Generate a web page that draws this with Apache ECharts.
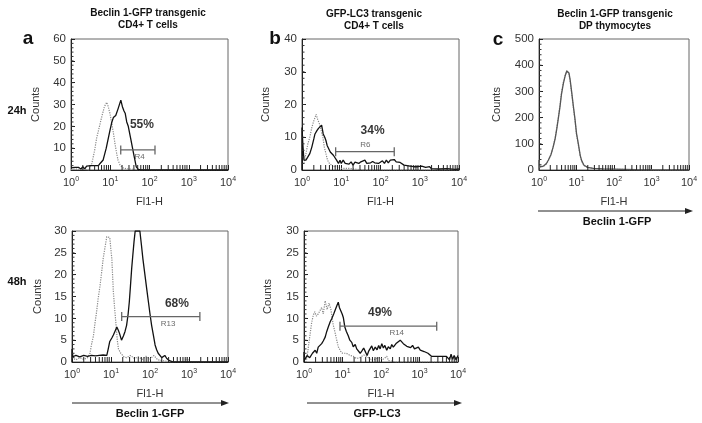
<!DOCTYPE html>
<html><head><meta charset="utf-8">
<script src="https://cdn.jsdelivr.net/npm/echarts@6/dist/echarts.min.js"></script>
<style>html,body{margin:0;padding:0;background:#fff}#c{width:702px;height:423px}</style>
</head><body><div id="c"></div>
<script>
// ---- data (FL1-H value, counts) ----
const a24Solid = [[1,1],[1.12,0.3],[1.26,1.2],[1.41,0.3],[1.58,1.2],[1.78,0.4],[2.0,1.5],[2.24,0.5],[2.5,1.8],[2.8,1.6],[3.2,2],[3.6,2],[4,2],[5,2],[5.5,3],[6.6,4.6],[7.9,10],[9.8,18],[11,22],[12,24],[13.8,25],[15.8,28],[18.6,32],[20.4,29],[22.4,27],[24,26],[26.3,22],[28.8,20],[33,14.6],[39,7.8],[46,1.4],[52,0.3],[63,0],[10000,0]];
const a24Ctrl = [[1,0.3],[2,0.5],[2.8,0],[3.4,3],[4,9],[4.5,14.6],[5,18],[6,24],[7.1,29],[8.1,31],[8.9,29],[9.8,26],[11,21],[12,17],[13.2,12],[14.5,7.8],[15.8,4.5],[17.8,2.3],[21,1],[26,0.5],[40,0.3],[63,0],[10000,0]];
const b24Solid = [[1,0],[1,13],[1.05,8],[1.12,3],[1.26,3],[1.41,2.5],[1.58,5],[1.78,7],[2.0,9.5],[2.14,11],[2.4,12],[2.63,12.7],[2.88,12.5],[3.16,13.7],[3.47,11],[3.8,10],[4.07,9],[4.37,7.5],[4.68,7],[5.25,5.5],[5.75,5],[6.3,4.5],[6.9,4],[7.6,3],[8.5,2],[9.3,3],[10,2],[11.2,3],[12.6,2],[14.1,2.6],[15.8,1.8],[17.8,2.5],[20,1.5],[22.4,2.4],[25,2.8],[28,2],[31.6,2.5],[35.5,2.2],[40,3],[44.7,2],[50,2.6],[56,2.2],[63,2.6],[71,2.2],[79,2.5],[89,2],[100,2.3],[112,2.8],[126,2],[141,3],[158,2.2],[178,3],[200,2.4],[224,3.2],[251,2.5],[282,3],[316,2.3],[355,2.6],[398,1.5],[447,1.2],[562,1.2],[708,1],[891,1],[1122,1.2],[1413,0.8],[1778,1],[2000,0.4],[3162,0.3],[5012,0.4],[7943,0.2],[10000,0.3]];
const b24Ctrl = [[1.12,2],[1.26,5],[1.41,8],[1.58,10],[1.78,13],[2.0,15],[2.3,17],[2.5,15.5],[2.8,14],[3.16,11.5],[3.4,10],[3.7,7],[4.07,5],[4.47,3],[5,2],[6.3,1],[7.9,1.2],[10,0.5],[15.8,0.5],[25,0.2],[40,0],[10000,0]];
const cSolid = [[1,0],[1,38],[1.05,12],[1.32,15],[1.58,25],[1.78,38],[2.1,60],[2.4,89],[2.7,120],[2.95,153],[3.3,200],[3.63,242],[3.98,290],[4.47,331],[5.0,360],[5.5,378],[5.9,385],[6.3,370],[6.76,345],[7.4,300],[8.3,240],[9.1,195],[10,140],[11.2,100],[12.6,55],[13.8,35],[15.8,18],[20,10],[28,6],[50,4],[100,3],[200,2],[398,1],[1000,0.5],[10000,0]];
const cCtrl = [[1,30],[1.05,10],[1.32,14],[1.58,24],[1.78,36],[2.1,58],[2.4,92],[2.7,124],[2.95,158],[3.3,205],[3.63,248],[3.98,296],[4.47,336],[5.0,362],[5.5,380],[5.8,382],[6.3,366],[6.76,340],[7.4,294],[8.3,236],[9.1,190],[10,136],[11.2,96],[12.6,52],[13.8,33],[15.8,17],[20,9],[28,6],[50,4],[100,3],[200,2],[398,1],[1000,0.5],[10000,0]];
const a48Solid = [[1,0],[1,3],[1.05,1.2],[1.26,1.5],[1.58,1.2],[2,1.5],[2.5,1.3],[3.16,1.5],[4,1.4],[5,1.5],[6.3,1.6],[7.8,1.5],[8.5,3],[9.3,4.7],[10.5,5.5],[11.5,6.2],[12.6,7],[14.1,8],[15.5,7.2],[16.6,6.5],[18.6,5],[20.9,6],[22.9,7],[25.1,8.4],[27.5,11],[29.5,13.8],[31.6,17.5],[33.9,21.4],[36.3,24.5],[38.9,27.5],[41.7,30],[55,30],[57.5,30],[60.3,26.8],[66,23.5],[74,20],[83,16.5],[91,13.8],[100,11],[110,8.4],[123,6],[135,3.9],[148,2.8],[162,2],[200,1],[240,1.5],[269,0.8],[316,0.3],[398,0],[10000,0]];
const a48Ctrl = [[1,1],[1.26,0.5],[1.58,1],[2,0.6],[2.5,1],[2.9,2],[3.16,4],[3.55,6],[3.9,9],[4.27,11.5],[4.68,14.5],[5.25,17.6],[5.75,20.5],[6.3,23.7],[7.1,26.5],[7.8,28.7],[8.5,29],[9.3,28.5],[10,25.5],[10.5,23.7],[11.5,16],[12.6,11.5],[13.5,8.4],[14.5,5],[15.5,3],[17.8,2],[21.4,1.2],[25,1],[31.6,1.5],[40,0.8],[50,1.2],[63,0.6],[79,1.3],[100,0.7],[126,1.5],[158,0.5],[200,0.3],[400,0],[794,0],[891,1],[1000,0],[10000,0]];
const b48Solid = [[1,0],[1,2.3],[1.05,0.5],[1.2,1.5],[1.41,1],[1.66,2],[1.95,2.7],[2.14,2],[2.34,3.4],[2.63,3],[2.88,4.2],[3.16,4.8],[3.55,5.7],[3.9,7],[4.27,8],[4.79,9.2],[5.25,9.9],[5.9,11],[6.46,11.4],[7.08,12.8],[7.76,13.7],[8.3,12.5],[9.1,12.7],[9.8,11],[10.5,10.2],[11.5,8],[12.6,7],[14.1,6],[15.5,5],[17.4,4.5],[19,3.5],[21.4,4],[23.4,3],[25.7,3.2],[28.8,2],[31.6,2.5],[35.5,3.2],[40,2.2],[43.7,1.5],[47.9,2.5],[52.5,2.8],[57.5,3.7],[63,2.6],[71,3.4],[79,2.8],[87,3.8],[95,3],[105,4.2],[115,3.2],[126,3.8],[141,2.7],[155,3.5],[174,3],[190,4],[209,3.4],[229,3.8],[251,4.3],[282,4.5],[316,5],[347,4.6],[380,4.2],[417,4.6],[468,3.6],[525,4],[589,3.3],[661,3.8],[741,3],[832,3.3],[933,3.4],[1047,2.7],[1175,3],[1318,2.4],[1479,2.8],[1660,2],[1862,2.3],[2042,1.3],[3162,1.3],[5012,1.3],[5623,1.3],[6026,0.5],[6607,1.8],[7244,0.6],[7943,1.5],[8913,0.5],[10000,1.5]];
const b48Ctrl = [[1.12,0],[1.2,1],[1.32,4],[1.45,6.6],[1.58,9],[1.74,10.7],[1.9,11.5],[2.1,10.5],[2.34,11],[2.63,10.8],[2.88,12.5],[3.16,11],[3.55,14],[3.98,12],[4.47,13.5],[5,12],[5.25,10.7],[5.75,8.5],[6.46,6.6],[7.08,5],[7.76,3.5],[8.9,2.5],[10,2],[12.6,2],[15.8,1.5],[19,1.3],[23.4,0.8],[28,1],[35.5,1.6],[42.7,1.3],[52.5,0.6],[63,0.5],[79,0.8],[93,1],[112,0.6],[141,1.3],[158,0.3],[251,0],[10000,0]];

// y-axis maxima and intervals per panel: a24, b24, c, a48, b48
const yMax = [60, 40, 500, 30, 30];
const yStep = [10, 10, 100, 5, 5];

// gates (on panels a24, b24, a48, b48)
const gatePanel = [0, 1, 3, 4];
const gateName = ['R4', 'R6', 'R13', 'R14'];
const gatePct = ['55%', '34%', '68%', '49%'];
const gateLo = [18.5, 7.2, 18.8, 8.6];
const gateHi = [138, 224, 1900, 2800];
const gateY = [9.2, 5.6, 10.4, 8.2];
const pctPos = [[64, 20.6], [63, 11.9], [490, 13.3], [94, 11.2]];
const namePos = [[56, 6], [41, 7.6], [290, 8.7], [256, 6.6]];

// ---- layout ----
const grids = [
  {left: 71, top: 39, width: 157, height: 131},
  {left: 302, top: 39, width: 157, height: 131},
  {left: 539, top: 39, width: 150, height: 131},
  {left: 72, top: 231, width: 156, height: 131},
  {left: 304, top: 231, width: 154, height: 131}
];
const nameGapsY = [30, 31, 37, 29, 31];
const FONT = 'Liberation Sans, Arial, sans-serif';

const minorX = [];
for (const d of [1, 10, 100, 1000]) for (let m = 2; m <= 9; m++) minorX.push([m * d, 0]);

const chart = echarts.init(document.getElementById('c'), null, {renderer: 'canvas'});
const option = {
  backgroundColor: '#fff',
  animation: false,
  grid: grids.map(g => Object.assign({show: true, borderColor: '#666', borderWidth: 1, containLabel: false}, g)),
  xAxis: grids.map((g, i) => ({
    type: 'log', logBase: 10, gridIndex: i, min: 1, max: 10000, splitNumber: 4,
    name: 'Fl1-H', nameLocation: 'middle', nameGap: 26,
    nameTextStyle: {fontFamily: FONT, fontSize: 11, color: '#333'},
    axisLine: {show: true, lineStyle: {color: '#222', width: 1}},
    axisTick: {show: true, inside: true, length: 5, lineStyle: {color: '#222'}},
    splitLine: {show: false},
    axisLabel: {
      margin: 6, color: '#333', fontFamily: FONT,
      formatter: v => '{b|10}{s|' + Math.round(Math.log10(v)) + '}',
      rich: {b: {fontSize: 11, fontFamily: FONT, color: '#333', lineHeight: 14}, s: {fontSize: 7, fontFamily: FONT, color: '#333', verticalAlign: 'top', lineHeight: 8}}
    }
  })),
  yAxis: grids.map((g, i) => ({
    type: 'value', gridIndex: i, min: 0, max: yMax[i], interval: yStep[i],
    name: 'Counts', nameLocation: 'middle', nameGap: nameGapsY[i],
    nameTextStyle: {fontFamily: FONT, fontSize: 11, color: '#333'},
    axisLine: {show: true, lineStyle: {color: '#222', width: 1}},
    axisTick: {show: true, inside: true, length: 4, lineStyle: {color: '#222'}},
    splitLine: {show: false},
    axisLabel: {margin: 5, fontSize: 11.5, fontFamily: FONT, color: '#333'}
  })),
  series: [],
  graphic: []
};

function hist(idx, data, dotted, color) {
  option.series.push({
    type: 'line', xAxisIndex: idx, yAxisIndex: idx, data: data, showSymbol: false, clip: true,
    lineStyle: {color: color, width: dotted ? 1.2 : 1.3, type: dotted ? 'dotted' : 'solid'},
    z: dotted ? 2 : 3
  });
}
hist(0, a24Ctrl, true, '#888'); hist(0, a24Solid, false, '#111');
hist(1, b24Ctrl, true, '#888'); hist(1, b24Solid, false, '#111');
hist(2, cCtrl, true, '#999'); hist(2, cSolid, false, '#555');
hist(3, a48Ctrl, true, '#888'); hist(3, a48Solid, false, '#111');
hist(4, b48Ctrl, true, '#888'); hist(4, b48Solid, false, '#111');

// minor ticks: log decades on x axes, fifths of each step on y axes
for (let i = 0; i < 5; i++) {
  option.series.push({
    type: 'scatter', xAxisIndex: i, yAxisIndex: i, data: minorX, symbol: 'rect',
    symbolSize: [1, 5], symbolOffset: [0, -2.5], itemStyle: {color: '#222', opacity: 1}, silent: true, z: 6
  });
  const minorY = [];
  for (let v = yStep[i] / 5; v < yMax[i]; v += yStep[i] / 5) minorY.push([1, v]);
  option.series.push({
    type: 'scatter', xAxisIndex: i, yAxisIndex: i, data: minorY, symbol: 'rect',
    symbolSize: [2.5, 1], symbolOffset: [1.25, 0], itemStyle: {color: '#333', opacity: 1}, silent: true, z: 6
  });
}

// gates and their labels
gatePanel.forEach((p, k) => {
  option.series.push({
    type: 'line', xAxisIndex: p, yAxisIndex: p,
    data: [[gateLo[k], gateY[k]], [gateHi[k], gateY[k]]],
    symbol: 'rect', symbolSize: [1.3, 9], showSymbol: true,
    itemStyle: {color: '#666'}, lineStyle: {color: '#666', width: 1.2}, z: 4
  });
  option.series.push({
    type: 'scatter', xAxisIndex: p, yAxisIndex: p, data: [pctPos[k]], symbolSize: 1,
    itemStyle: {color: 'rgba(0,0,0,0)'},
    label: {show: true, position: 'inside', formatter: gatePct[k], fontFamily: FONT, fontSize: 12, fontWeight: 'bold', color: '#000', textBorderWidth: 0}, z: 5
  });
  option.series.push({
    type: 'scatter', xAxisIndex: p, yAxisIndex: p, data: [namePos[k]], symbolSize: 1,
    itemStyle: {color: 'rgba(0,0,0,0)'},
    label: {show: true, position: 'inside', formatter: gateName[k], fontFamily: FONT, fontSize: 8, color: '#444', textBorderWidth: 0}, z: 5
  });
});

// annotations
function txt(t, x, y, size, bold) {
  option.graphic.push({
    type: 'text', x: x, y: y, silent: true,
    style: {text: t, fill: '#111', font: (bold ? 'bold ' : '') + size + 'px ' + FONT, align: 'center', verticalAlign: 'middle'}
  });
}
txt('Beclin 1-GFP transgenic', 148, 13, 10, true);
txt('CD4+ T cells', 148, 25, 10, true);
txt('GFP-LC3 transgenic', 374, 14, 10, true);
txt('CD4+ T cells', 374, 26, 10, true);
txt('Beclin 1-GFP transgenic', 615, 14, 10, true);
txt('DP thymocytes', 615, 26, 10, true);
txt('a', 28, 39, 19, true);
txt('b', 275, 39, 19, true);
txt('c', 498, 40, 19, true);
txt('24h', 17, 111, 11, true);
txt('48h', 17, 282, 11, true);

function arrow(x1, x2, y) {
  option.graphic.push({type: 'line', silent: true, shape: {x1: x1, y1: y, x2: x2 - 6, y2: y}, style: {stroke: '#222', lineWidth: 1}});
  option.graphic.push({type: 'polygon', silent: true, shape: {points: [[x2, y], [x2 - 8, y - 3], [x2 - 8, y + 3]]}, style: {fill: '#222'}});
}
arrow(538, 693, 211);
txt('Beclin 1-GFP', 617, 222, 11, true);
arrow(72, 229, 403);
txt('Beclin 1-GFP', 150, 414, 11, true);
arrow(307, 462, 403);
txt('GFP-LC3', 377, 414, 11, true);

chart.setOption(option);
</script></body></html>
